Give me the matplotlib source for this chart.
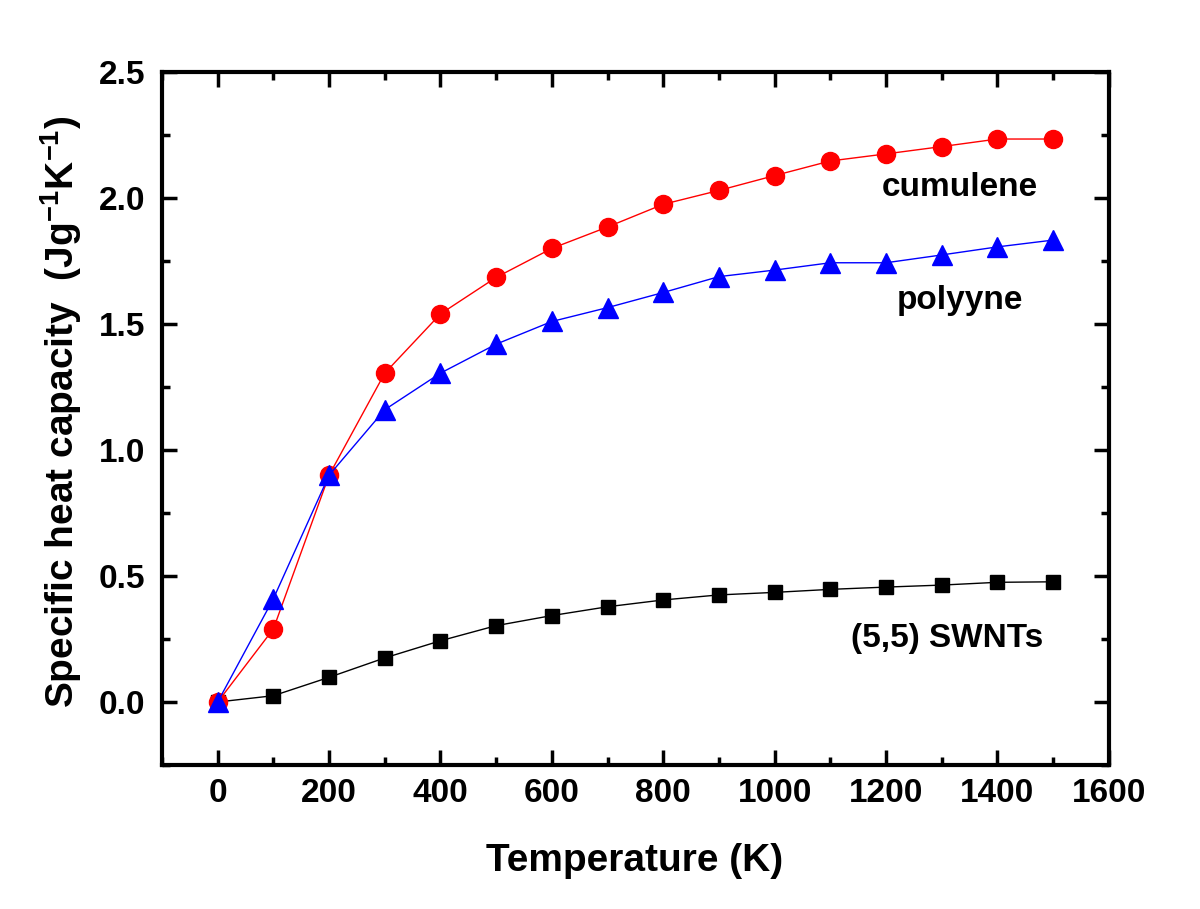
import matplotlib
matplotlib.use('Agg')
import matplotlib.pyplot as plt
from matplotlib.ticker import MultipleLocator

# temperatures (K) and specific heat values
temperature = [0, 100, 200, 300, 400, 500, 600, 700, 800, 900, 1000, 1100, 1200, 1300, 1400, 1500]
swnt = [0.0, 0.025, 0.098, 0.175, 0.243, 0.303, 0.343, 0.378, 0.405, 0.425, 0.435, 0.447, 0.456, 0.464, 0.475, 0.477]
cumulene = [0.0, 0.29, 0.90, 1.305, 1.54, 1.685, 1.80, 1.885, 1.975, 2.03, 2.089, 2.147, 2.175, 2.204, 2.234, 2.234]
polyyne = [0.0, 0.41, 0.90, 1.16, 1.305, 1.42, 1.51, 1.565, 1.625, 1.688, 1.714, 1.743, 1.743, 1.774, 1.806, 1.833]

plt.rcParams['font.family'] = ['Liberation Sans', 'DejaVu Sans']
plt.rcParams['font.weight'] = 'bold'
plt.rcParams['mathtext.default'] = 'regular'

fig = plt.figure(figsize=(12, 9.09), dpi=100)
ax = fig.add_axes([0.135, 0.1584, 0.789, 0.7624])

ax.plot(temperature, swnt, color='black', marker='s', markersize=10.5, linewidth=1)
ax.plot(temperature, cumulene, color='red', marker='o', markersize=13, linewidth=1)
ax.plot(temperature, polyyne, color='blue', marker='^', markersize=14, linewidth=1)

ax.set_xlim(-100, 1600)
ax.set_ylim(-0.25, 2.5)
ax.xaxis.set_major_locator(MultipleLocator(200))
ax.xaxis.set_minor_locator(MultipleLocator(100))
ax.yaxis.set_major_locator(MultipleLocator(0.5))
ax.yaxis.set_minor_locator(MultipleLocator(0.25))

# ticks go inward on all four sides
ax.tick_params(which='both', direction='in', top=True, right=True, width=2.5, labelsize=24)
ax.tick_params(which='major', length=11)
ax.tick_params(axis='x', which='major', pad=9)
ax.tick_params(axis='y', which='major', pad=12)
ax.tick_params(which='minor', length=6)
for s in ax.spines.values():
    s.set_linewidth(3)

ax.set_xlabel('Temperature (K)', fontsize=28, fontweight='bold')
ax.xaxis.set_label_coords(0.4995, -0.112)
ax.set_ylabel('Specific heat capacity  (Jg$^{-1}$K$^{-1}$)', fontsize=28, fontweight='bold')
ax.yaxis.set_label_coords(-0.082, 0.51)

# curve names written next to the curves
ax.text(1332, 2.04, 'cumulene', fontsize=24, fontweight='bold', ha='center', va='center')
ax.text(1332, 1.595, 'polyyne', fontsize=24, fontweight='bold', ha='center', va='center')
ax.text(1309, 0.254, '(5,5) SWNTs', fontsize=24, fontweight='bold', ha='center', va='center')

fig.savefig('out.png', dpi=100)
